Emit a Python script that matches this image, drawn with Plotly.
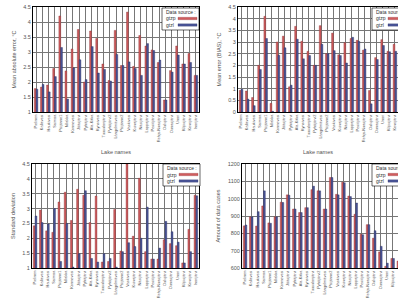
import plotly.graph_objects as go

lakes = ["Pielinen", "Kallavesi", "Haukivesi", "Saimaa", "Päijänne1", "Nilakka",
         "Konnevesi", "Jääsjärvi", "Pyhäjärvi", "Ala-Kitka", "Kynsivesi", "Tuusulanjärvi",
         "Pyhäjärvi2", "Längelmävesi", "Päijänne2", "Vaskivesi", "Kuivajärvi", "Näsijärvi",
         "Lappajärvi", "Pesiöjärvi", "Rehja-Nuasjärvi", "Oulujärvi", "Ounasjärvi", "Unari",
         "Kilpisjärvi", "Kevojärvi", "Inarijärvi"]

series_names = ["gtzp", "gtzl"]

mae_gtzp = [1.78, 1.83, 1.90, 2.45, 4.20, 2.37, 3.10, 3.75, 2.00, 3.70, 3.45, 2.60, 2.05, 3.72,
            2.55, 4.33, 2.52, 3.55, 3.20, 3.07, 2.65, 1.40, 2.38, 3.20, 2.60, 2.95, 2.22]
mae_gtzl = [1.76, 1.92, 1.67, 2.18, 3.15, 1.43, 2.47, 2.74, 2.08, 3.18, 2.30, 2.42, 2.03, 2.92,
            2.55, 2.67, 2.45, 2.22, 3.28, 3.05, 2.73, 1.40, 2.33, 2.90, 2.60, 2.65, 2.22]

bias_gtzp = [0.93, 0.90, 0.62, 2.00, 4.10, 0.37, 3.00, 3.25, 1.08, 3.67, 3.03, 2.60, 2.00, 3.70,
             2.50, 3.38, 2.45, 2.97, 3.15, 3.07, 2.65, 0.92, 2.33, 3.10, 2.60, 2.90, 2.22]
bias_gtzl = [0.97, 0.55, 0.27, 1.82, 3.15, 0.03, 2.43, 2.75, 1.15, 3.12, 2.28, 2.42, 2.00, 2.90,
             2.50, 2.63, 2.42, 2.10, 3.20, 3.03, 2.70, 0.35, 2.25, 2.85, 2.58, 2.60, 2.20]

sd_gtzp = [2.42, 2.95, 2.25, 2.20, 3.22, 3.55, 2.60, 3.65, 3.45, 2.53, 3.42, 1.20, 1.22, 2.97,
           1.57, 4.50, 2.07, 4.02, 1.55, 1.30, 1.30, 1.95, 1.82, 1.75, 1.17, 2.30, 3.45]
sd_gtzl = [2.75, 2.53, 2.48, 3.00, 1.22, 2.50, 1.03, 1.48, 3.60, 1.32, 1.20, 1.48, 1.32, 1.03,
           1.55, 1.85, 1.72, 2.00, 3.05, 1.30, 1.67, 2.57, 2.22, 1.87, 1.17, 1.55, 3.43]

n_gtzp = [843, 895, 842, 958, 860, 895, 980, 1022, 940, 920, 948, 1052, 1045, 940,
          1122, 1025, 1095, 1015, 910, 795, 850, 772, 693, 610, 655, 640, 660]
n_gtzl = [848, 895, 925, 1045, 858, 895, 978, 1020, 940, 920, 948, 1072, 1045, 940,
          1122, 1022, 1092, 1012, 975, 792, 850, 815, 725, 628, 655, 640, 660]

y_titles = ["Mean absolute error, °C", "Mean error (BIAS), °C",
            "Standard deviation", "Amount of data cases"]
x_titles = ["Lake names", "Lake names", "", ""]
y_ticks = [[1, 1.5, 2, 2.5, 3, 3.5, 4, 4.5],
           [0, 0.5, 1, 1.5, 2, 2.5, 3, 3.5, 4, 4.5],
           [1, 1.5, 2, 2.5, 3, 3.5, 4, 4.5],
           [600, 700, 800, 900, 1000, 1100, 1200]]
legend_title = "Data source :"
data = [(mae_gtzp, mae_gtzl), (bias_gtzp, bias_gtzl), (sd_gtzp, sd_gtzl), (n_gtzp, n_gtzl)]

W, H = 398, 299
def fx(p): return p / W
def fy(p): return 1 - p / H

x_domains = [[fx(33), fx(199)], [fx(238), 1.0], [fx(32), fx(199)], [fx(242), 1.0]]
y_domains = [[fy(112), fy(7)], [fy(112), fy(7)], [fy(268), fy(164)], [fy(268), fy(164)]]
x_ranges = [[-0.5, 26.5], [-0.5, 25.5], [-0.5, 26.5], [-0.5, 24.87]]
legend_box = [(162, 8), (372, 8), (163, 164), (372, 164)]

fill = ["#d05c5e", "#4a5599"]
edge = ["#8a2e30", "#262c5c"]
font = "Liberation Sans, Arial, sans-serif"
txt = "#555"

fig = go.Figure()
layout = dict(width=W, height=H, margin=dict(l=0, r=0, t=0, b=0),
              paper_bgcolor="white", plot_bgcolor="white",
              barmode="group", bargap=0.42, bargroupgap=0.0, showlegend=False,
              font=dict(family=font, size=5, color=txt))
shapes, annotations = [], []

for i in range(4):
    sfx = "" if i == 0 else str(i + 1)
    for s in range(2):
        fig.add_trace(go.Bar(
            x=lakes, y=data[i][s], name=series_names[s],
            marker=dict(color=fill[s], line=dict(color=edge[s], width=0.4)),
            xaxis="x" + sfx, yaxis="y" + sfx))
    tv = y_ticks[i]
    layout["xaxis" + sfx] = dict(
        domain=x_domains[i], anchor="y" + sfx, type="category",
        range=x_ranges[i], tickangle=-90, tickfont=dict(size=3.9, color=txt),
        showgrid=True, gridcolor="#777", gridwidth=0.6,
        showline=True, linecolor="black", linewidth=1, mirror=True,
        ticks="", automargin=False,
        title=dict(text=x_titles[i], font=dict(size=5.5, color=txt), standoff=8))
    layout["yaxis" + sfx] = dict(
        domain=y_domains[i], anchor="x" + sfx, range=[tv[0], tv[-1]],
        tickvals=tv, ticktext=[str(v) for v in tv],
        tickfont=dict(size=5.5, color=txt),
        showgrid=True, gridcolor="#777", gridwidth=0.6,
        showline=True, linecolor="black", linewidth=1, mirror=True,
        zeroline=False, ticks="", automargin=False,
        title=dict(text=y_titles[i], font=dict(size=5.5, color=txt), standoff=6))

    # legend box (gnuplot style: label left, sample right)
    bx, by = legend_box[i]
    shapes.append(dict(type="rect", xref="paper", yref="paper",
                       x0=fx(bx), x1=fx(bx + 37), y0=fy(by + 22), y1=fy(by),
                       fillcolor="white", line=dict(color="black", width=0.6), layer="above"))
    annotations.append(dict(xref="paper", yref="paper", x=fx(bx + 2), y=fy(by + 4),
                            xanchor="left", yanchor="middle", showarrow=False,
                            text=legend_title, font=dict(size=5, color="#333")))
    for s in range(2):
        ry = by + 10.5 + 6.5 * s
        annotations.append(dict(xref="paper", yref="paper", x=fx(bx + 2), y=fy(ry),
                                xanchor="left", yanchor="middle", showarrow=False,
                                text=series_names[s], font=dict(size=5, color="#333")))
        shapes.append(dict(type="rect", xref="paper", yref="paper",
                           x0=fx(bx + 16), x1=fx(bx + 35), y0=fy(ry + 1.2), y1=fy(ry - 1.2),
                           fillcolor=fill[s], line=dict(color=edge[s], width=0.3), layer="above"))

layout["shapes"] = shapes
layout["annotations"] = annotations
fig.update_layout(**layout)
fig.write_html("out.html")
